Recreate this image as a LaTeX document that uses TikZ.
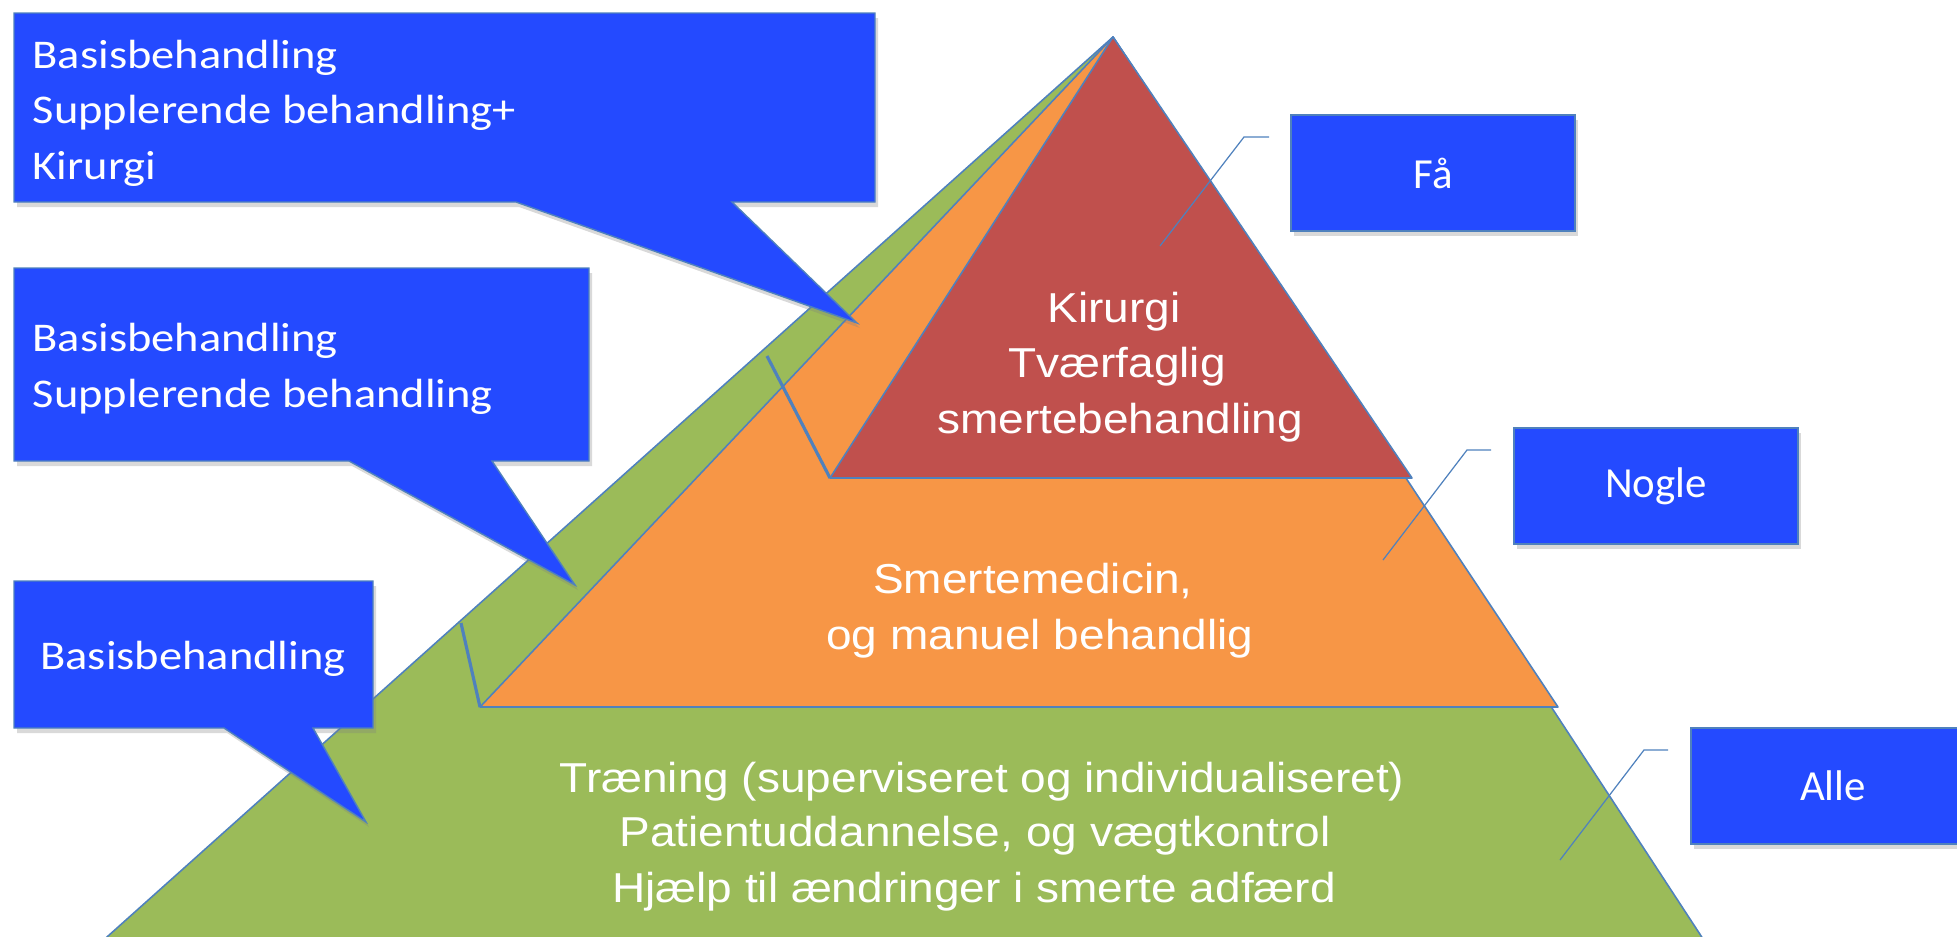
\documentclass[tikz,border=0pt]{standalone}
\usepackage{fontspec}
\usetikzlibrary{positioning}
\usetikzlibrary{shadows}
\newfontfamily\pyrfont[FakeStretch=1.1]{Liberation Sans}
\newfontfamily\boxfont[FakeStretch=1.14]{Carlito}
\newfontfamily\tagfont{Carlito}
\definecolor{lvlgreen}{HTML}{9BBB59}
\definecolor{lvlorange}{HTML}{F79646}
\definecolor{lvlred}{HTML}{C0504D}
\definecolor{calloutblue}{RGB}{36,74,255}
\definecolor{edgeblue}{HTML}{4F81BD}

\begin{document}
\begin{tikzpicture}[x=0.1mm, y=-0.1mm]
	\tikzstyle{level}=[draw=edgeblue, line width=0.45pt, line join=round]
	\tikzstyle{bubble}=[fill=calloutblue, draw=edgeblue, line width=0.4pt, drop shadow={shadow xshift=0.3mm, shadow yshift=-0.5mm, opacity=0.3}]
	\tikzstyle{tag}=[bubble, text=white, font=\tagfont\fontsize{12.2}{14}\selectfont, minimum width=28.4mm, minimum height=11.6mm, inner sep=0pt]
	\tikzstyle{lead}=[draw=edgeblue, line width=0.35pt]
	\tikzstyle{leadthick}=[draw=edgeblue, line width=0.9pt]
	\tikzstyle{pyrtext}=[text=white, font=\pyrfont\fontsize{11.9}{15.8}\selectfont, inner sep=0pt, anchor=base]
	\tikzstyle{boxtext}=[text=white, font=\boxfont\fontsize{11.6}{15.8}\selectfont, inner sep=0pt, anchor=base west]

	\useasboundingbox (0,0) rectangle (1957,937);
	\clip (0,0) rectangle (1957,937);

	\coordinate (apex) at (1113,37);
	\coordinate (gL) at (98,945);
	\coordinate (gR) at (1707,945);
	\coordinate (oL) at (480,707);
	\coordinate (oR) at (1558,707);
	\coordinate (rL) at (830,478);
	\coordinate (rR) at (1412,478);

	\draw[level, fill=lvlgreen] (apex) -- (gL) -- (gR) -- cycle;
	\draw[level, fill=lvlorange] (apex) -- (oL) -- (oR) -- cycle;
	\draw[level, fill=lvlred] (apex) -- (rL) -- (rR) -- cycle;

	\node[pyrtext] (r1) at (1114,322) {Kirurgi};
	\node[pyrtext] (r2) at (1117,377) {Tværfaglig};
	\node[pyrtext] (r3) at (1120,433) {smertebehandling};
	\node[pyrtext] (o1) at (1033,593) {Smertemedicin,};
	\node[pyrtext] (o2) at (1040,649) {og manuel behandlig};
	\node[pyrtext] (g1) at (982,792) {Træning (superviseret og individualiseret)};
	\node[pyrtext] (g2) at (975,846) {Patientuddannelse, og vægtkontrol};
	\node[pyrtext] (g3) at (974,902) {Hjælp til ændringer i smerte adfærd};

	\coordinate (k1) at (767,356);
	\coordinate (k2) at (461,623);
	\draw[leadthick] (k1) -- (rL);
	\draw[leadthick] (k2) -- (oL);

	\path[bubble] (14,13) -- (875,13) -- (875,202) -- (732,202) -- (857,323) -- (516,202) -- (14,202) -- cycle;
	\path[bubble] (14,268) -- (589,268) -- (589,461) -- (492,461) -- (575,585) -- (349,461) -- (14,461) -- cycle;
	\path[bubble] (14,581) -- (373,581) -- (373,728) -- (313,728) -- (366,822) -- (224,728) -- (14,728) -- cycle;

	\node[boxtext] (b1a) at (32,68) {Basisbehandling};
	\node[boxtext] (b1b) at (32,123) {Supplerende behandling+};
	\node[boxtext] (b1c) at (32,179) {Kirurgi};
	\node[boxtext] (b2a) at (32,351) {Basisbehandling};
	\node[boxtext] (b2b) at (32,407) {Supplerende behandling};
	\node[boxtext, anchor=base] (b3a) at (193,669) {Basisbehandling};

	\node[tag] (faa) at (1433,173) {Få};
	\node[tag] (nogle) at (1656,486) {Nogle};
	\node[tag] (alle) at (1833,786) {Alle};

	\coordinate (faa-a) at (1269,137);
	\coordinate (faa-b) at (1244,137);
	\coordinate (faa-c) at (1160,246);
	\coordinate (nogle-a) at (1491,450);
	\coordinate (nogle-b) at (1467,450);
	\coordinate (nogle-c) at (1383,560);
	\coordinate (alle-a) at (1668,750);
	\coordinate (alle-b) at (1644,750);
	\coordinate (alle-c) at (1560,860);
	\draw[lead] (faa-a) -- (faa-b) -- (faa-c);
	\draw[lead] (nogle-a) -- (nogle-b) -- (nogle-c);
	\draw[lead] (alle-a) -- (alle-b) -- (alle-c);
\end{tikzpicture}
\end{document}
